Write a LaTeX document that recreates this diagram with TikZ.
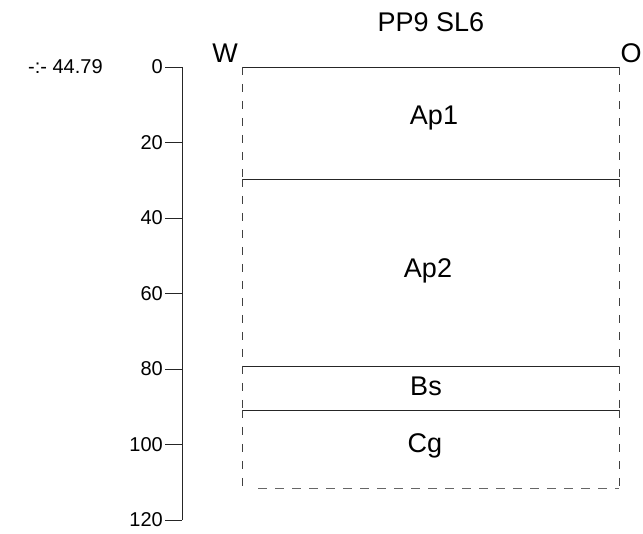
\documentclass[tikz,border=0pt]{standalone}
\usepackage{fontspec}
\setmainfont{Liberation Sans}
\usetikzlibrary{positioning}
\tikzset{
  layerlbl/.style={font=\fontsize{27}{32}\selectfont, inner sep=0pt, anchor=base},
  sidelbl/.style={font=\fontsize{27}{32}\selectfont, inner sep=0pt, anchor=base},
  ticklbl/.style={font=\fontsize{20}{24}\selectfont, anchor=base east, inner sep=0pt},
  bound/.style={line width=0.8pt, black!85},
  side/.style={line width=0.8pt, black!75, dash pattern=on 8pt off 9pt},
  base/.style={line width=0.8pt, black!60, dash pattern=on 9pt off 8pt},
}
\newcommand{\dpt}[1]{67+3.775*#1}

\begin{document}
\begin{tikzpicture}[x=1pt, y=-1pt]
\useasboundingbox (0,0) rectangle (643,534);

% -- depth scale --
\draw[bound] (182,67) -- (182,520);
\foreach \d in {0,20,...,120}{
  \draw[bound] (165,{\dpt{\d}}) -- (182,{\dpt{\d}});
  \node[ticklbl] (t\d) at (163,{\dpt{\d}+7}) {\d};
}
\node[ticklbl, anchor=base west] (elev) at (28,74) {-:- 44.79};

% -- profile --
\node[sidelbl] (title) at (431,32) {PP9 SL6};
\node[sidelbl] (west) at (225,63) {W};
\node[sidelbl] (east) at (631,63) {O};

\draw[bound] (242,67) -- (619,67);
\draw[bound] (242,179) -- (619,179);
\draw[bound] (242,366) -- (619,366);
\draw[bound] (242,410) -- (619,410);
\draw[base] (258,488) -- (619,488);

\foreach \ya/\yb in {67/179, 179/366, 366/410, 410/488}{
  \draw[side] (242,\ya) -- (242,\yb);
  \draw[side] (619,\ya) -- (619,\yb);
}

% -- horizons --
\node[layerlbl] (ap1) at (434,125) {Ap1};
\node[layerlbl] (ap2) at (428,278) {Ap2};
\node[layerlbl] (bs)  at (426,396) {Bs};
\node[layerlbl] (cg)  at (425,453) {Cg};

\end{tikzpicture}
\end{document}
